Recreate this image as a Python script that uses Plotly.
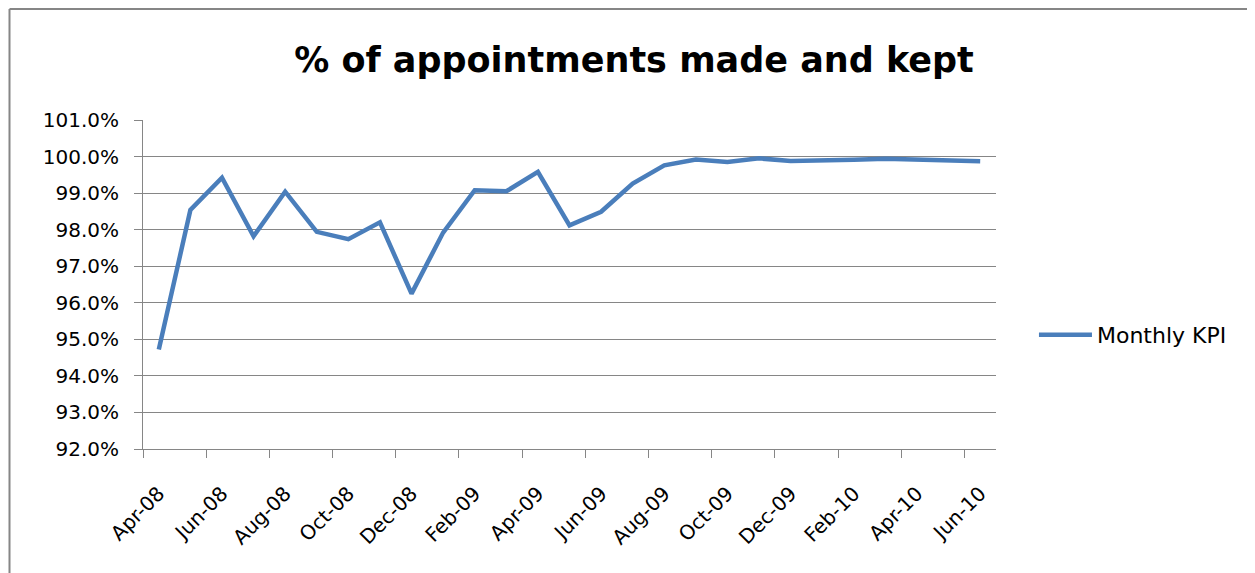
import plotly.graph_objects as go

months = ["Apr-08", "May-08", "Jun-08", "Jul-08", "Aug-08", "Sep-08", "Oct-08", "Nov-08", "Dec-08",
          "Jan-09", "Feb-09", "Mar-09", "Apr-09", "May-09", "Jun-09", "Jul-09", "Aug-09", "Sep-09",
          "Oct-09", "Nov-09", "Dec-09", "Jan-10", "Feb-10", "Mar-10", "Apr-10", "May-10", "Jun-10"]
kpi = [94.72, 98.54, 99.42, 97.82, 99.04, 97.94, 97.74, 98.20, 96.25,
       97.92, 99.08, 99.05, 99.58, 98.12, 98.49, 99.26, 99.76, 99.92,
       99.85, 99.95, 99.88, 99.88, 99.91, 99.94, 99.92, 99.92, 99.87]
y_ticks = [92, 93, 94, 95, 96, 97, 98, 99, 100, 101]

idx = list(range(len(months)))
label_idx = idx[::2]
boundary_vals = [i - 0.5 for i in label_idx]

W, H = 1247, 565
L, R, T, B = 135, 259, 112, 124
PW, PH = W - L - R, H - T - B

grey = "#868686"
font_family = "DejaVu Sans"

fig = go.Figure()
fig.add_trace(go.Scatter(x=idx, y=kpi, mode="lines", name="Monthly KPI",
                         line=dict(color="#4A7EBB", width=4.5)))

bx = (1.5 - L) / PW
by = (PH + T - 1) / PH

fig.update_layout(
    width=W, height=H,
    margin=dict(l=L, r=R, t=T, b=B),
    paper_bgcolor="white", plot_bgcolor="white",
    font=dict(family=font_family, color="#000000"),
    title=dict(text="<b>% of appointments made and kept</b>", x=626 / W, xanchor="center",
               y=1 - 52 / H, yanchor="middle", font=dict(size=35, family=font_family)),
    showlegend=True,
    legend=dict(x=1.0445, xanchor="left", y=0.347, yanchor="middle",
                font=dict(size=22, family=font_family), itemwidth=53, bgcolor="rgba(0,0,0,0)"),
    xaxis=dict(range=[-0.5, len(months) - 0.5], tickmode="array", tickvals=label_idx,
               ticktext=[months[i] for i in label_idx], tickangle=-45, ticks="",
               ticklabelstandoff=24,
               showgrid=False, zeroline=False, showline=True, linecolor=grey, linewidth=1,
               tickfont=dict(size=20, family=font_family),
               minor=dict(tickmode="array", tickvals=boundary_vals, ticks="outside", ticklen=8,
                          tickcolor=grey, tickwidth=1, showgrid=False)),
    yaxis=dict(range=[92, 101], tickmode="array", tickvals=y_ticks,
               ticktext=[f"{v:.1f}%" for v in y_ticks], ticks="outside", ticklen=8,
               tickcolor=grey, showgrid=True, gridcolor=grey, gridwidth=1, zeroline=False,
               showline=True, linecolor=grey, linewidth=1, ticklabelstandoff=11,
               tickfont=dict(size=20, family=font_family)),
    shapes=[
        dict(type="line", xref="paper", yref="paper", x0=bx, x1=1.5, y0=by, y1=by,
             line=dict(color=grey, width=2)),
        dict(type="line", xref="paper", yref="paper", x0=bx, x1=bx, y0=by, y1=-1,
             line=dict(color=grey, width=2)),
    ],
)

fig.write_html("out.html")
